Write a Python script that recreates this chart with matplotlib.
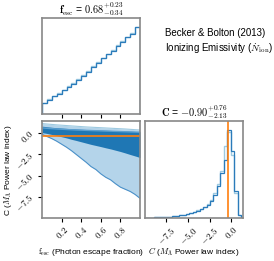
import numpy as np
import matplotlib.pyplot as plt
from matplotlib.ticker import FuncFormatter

plt.rcParams['mathtext.fontset'] = 'cm'
plt.rcParams['font.family'] = ['Liberation Sans', 'DejaVu Sans']

# fesc marginal (20 bins over 0..1)
fesc_counts = [32, 42, 54, 62, 72, 82, 92, 104, 116, 128, 142, 154, 168, 180, 192, 206, 218, 232, 242, 262]
fesc_counts_b = [34, 44, 55, 64, 74, 84, 94, 106, 118, 131, 144, 157, 170, 183, 195, 208, 221, 234, 245, 264]

# C marginal (bins of 0.4 starting at -10.05)
c_counts = [1, 1, 1, 2, 2, 3, 3, 4, 5, 6, 8, 10, 12, 14, 18, 22, 26, 32, 40, 52, 70, 97, 135, 175, 264, 200, 80, 10]
c_counts_b = [1, 1, 1, 2, 2, 3, 4, 4, 5, 7, 8, 10, 12, 15, 18, 23, 27, 34, 42, 55, 74, 102, 140, 215, 258, 190, 76, 9]

# C vs fesc credible bands
fesc_grid = [0.0, 0.05, 0.1, 0.15, 0.2, 0.25, 0.3, 0.35, 0.4, 0.45, 0.5,
             0.55, 0.6, 0.65, 0.7, 0.75, 0.8, 0.85, 0.9, 0.95, 1.0]
outer_hi = [1.05, 1.0, 0.95, 0.9, 0.86, 0.82, 0.78, 0.74, 0.7, 0.66, 0.63,
            0.6, 0.57, 0.54, 0.51, 0.48, 0.45, 0.42, 0.38, 0.34, 0.3]
outer_lo = [-0.2, -0.45, -0.7, -1.0, -1.35, -1.7, -2.1, -2.55, -3.0, -3.45, -3.95,
            -4.3, -4.8, -5.2, -5.5, -5.95, -6.35, -6.6, -6.85, -7.2, -7.65]
inner_hi = [0.75, 0.68, 0.62, 0.57, 0.53, 0.49, 0.45, 0.42, 0.39, 0.36, 0.33,
            0.31, 0.29, 0.27, 0.25, 0.23, 0.21, 0.19, 0.16, 0.13, 0.1]
inner_lo = [0.0, -0.1, -0.22, -0.35, -0.48, -0.62, -0.78, -0.92, -1.07, -1.22, -1.37,
            -1.5, -1.63, -1.77, -1.9, -2.05, -2.2, -2.37, -2.55, -2.72, -2.9]
mid_line = [0.55, 0.5, 0.46, 0.42, 0.39, 0.36, 0.33, 0.3, 0.28, 0.26, 0.24,
            0.22, 0.2, 0.18, 0.16, 0.14, 0.12, 0.1, 0.08, 0.06, 0.04]

c_truth = -0.35

fesc_edges = np.linspace(0, 1, len(fesc_counts) + 1)
c_edges = -10.05 + 0.4 * np.arange(len(c_counts) + 1)

dark = '#2b7bba'
light = '#9ecae1'
orange = '#ff7f0e'
c_lim = (-9.94, 1.35)

fig = plt.figure(figsize=(2.74, 2.61), dpi=100)
ax_f = fig.add_axes([42/274, 1-114/261, 98/274, 96/261])
ax_2d = fig.add_axes([42/274, 1-218/261, 98/274, 97/261])
ax_c = fig.add_axes([145/274, 1-218/261, 98/274, 97/261])

fmt = FuncFormatter(lambda v, p: r'$%.1f$' % v)

for ax in (ax_f, ax_2d, ax_c):
    for s in ax.spines.values():
        s.set_color('#888888')
        s.set_linewidth(1.2)
    ax.tick_params(length=3, width=0.8, labelsize=6.5, pad=2)

# top-left marginal
ax_f.stairs(fesc_counts_b, fesc_edges, color=light, lw=1.0)
ax_f.stairs(fesc_counts, fesc_edges, color=dark, lw=0.9)
ax_f.set_xlim(0, 1)
ax_f.set_ylim(0, 1.1 * max(fesc_counts_b))
ax_f.set_xticks([0.2, 0.4, 0.6, 0.8])
ax_f.set_xticklabels([])
ax_f.set_yticks([])
ax_f.set_title(r'$\mathbf{f}_{\rm esc}$ = $0.68^{+0.23}_{-0.34}$', fontsize=7.5, pad=3)

# bottom-left bands
ax_2d.fill_between(fesc_grid, outer_lo, outer_hi, color='#b4d4ea', lw=0)
ax_2d.fill_between(fesc_grid, inner_lo, inner_hi, color='#1f77b4', lw=0)
ax_2d.plot(fesc_grid, outer_lo, color='#4a90c8', lw=0.8)
ax_2d.plot(fesc_grid, outer_hi, color=light, lw=0.8)
ax_2d.plot(fesc_grid, mid_line, color='#5b9fd0', lw=1.0)
ax_2d.axhline(c_truth, color=orange, lw=1.2)
ax_2d.set_xlim(0, 1)
ax_2d.set_ylim(*c_lim)
ax_2d.set_xticks([0.2, 0.4, 0.6, 0.8])
ax_2d.set_yticks([0.0, -2.5, -5.0, -7.5])
ax_2d.xaxis.set_major_formatter(fmt)
ax_2d.yaxis.set_major_formatter(fmt)
plt.setp(ax_2d.get_xticklabels(), rotation=45)
plt.setp(ax_2d.get_yticklabels(), rotation=45)

# bottom-right marginal
ax_c.stairs(c_counts_b, c_edges, color=light, lw=1.0)
ax_c.stairs(c_counts, c_edges, color=dark, lw=0.9)
ax_c.axvline(c_truth, color=orange, lw=1.2)
ax_c.set_xlim(*c_lim)
ax_c.set_ylim(0, 1.1 * max(c_counts))
ax_c.set_xticks([-7.5, -5.0, -2.5, 0.0])
ax_c.xaxis.set_major_formatter(fmt)
plt.setp(ax_c.get_xticklabels(), rotation=45)
ax_c.set_yticks([])
ax_c.set_title(r'$\mathbf{C}$ = $-0.90^{+0.76}_{-2.13}$', fontsize=7.5, pad=3)

fig.text(8/274, 1-170/261, r'C ($M_\Lambda$ Power law index)', fontsize=6,
         rotation=90, ha='center', va='center')
fig.text(91/274, 1-252/261, r'$\mathrm{f}_{\rm esc}$ (Photon escape fraction)', fontsize=6, ha='center', va='center')
fig.text(194/274, 1-252/261, r'$C$ ($M_\Lambda$ Power law index)', fontsize=6, ha='center', va='center')
fig.text(165/274, 1-42/261, 'Becker & Bolton (2013)\nIonizing Emissivity ($\\dot{N}_{\\rm ion}$)',
         fontsize=7, ha='left', va='center', linespacing=1.3)

fig.savefig('out.png', dpi=100)
